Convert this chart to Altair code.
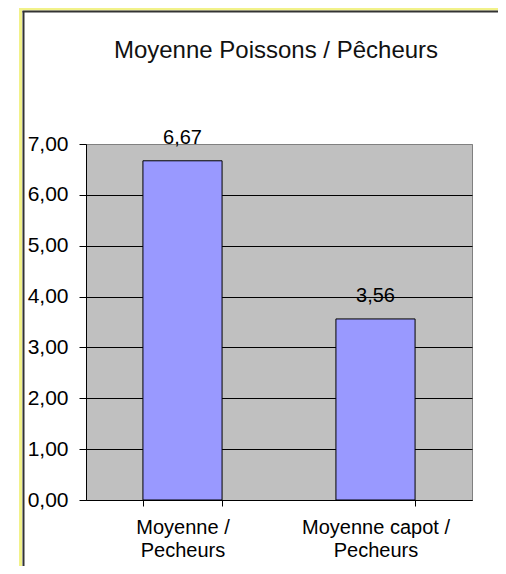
import altair as alt
import pandas as pd

categories = ["Moyenne /|Pecheurs", "Moyenne capot /|Pecheurs"]
values = [6.67, 3.56]
y_ticks = [0, 1, 2, 3, 4, 5, 6, 7]
title_text = "Moyenne Poissons / Pêcheurs"

FONT = "Liberation Sans"
df = pd.DataFrame({"cat": categories, "v": values})

x_enc = alt.X(
    "cat:N",
    sort=None,
    title=None,
    scale=alt.Scale(paddingInner=0.59, paddingOuter=0.295),
    axis=alt.Axis(
        labelExpr="split(datum.label, '|')",
        labelAngle=0,
        labelFont=FONT,
        labelFontSize=20,
        labelColor="black",
        labelLineHeight=23,
        labelBaseline="top",
        labelPadding=11,
        tickBand="extent",
        tickSize=6,
        tickColor="black",
        domainColor="black",
        grid=False,
    ),
)

y_enc = alt.Y(
    "v:Q",
    title=None,
    scale=alt.Scale(domain=[0, 7], nice=False),
    axis=alt.Axis(
        values=y_ticks,
        labelExpr="replace(format(datum.value, '.2f'), '.', ',')",
        labelFont=FONT,
        labelFontSize=21,
        labelColor="black",
        labelPadding=11,
        tickSize=7,
        tickColor="black",
        domainColor="black",
        grid=True,
        gridColor=alt.condition("datum.value == 7", alt.value("#808080"), alt.value("black")),
        gridOpacity=1,
        gridWidth=1,
    ),
)

base = alt.Chart(df)

bars = base.mark_bar(fill="#9999FF", stroke="black", strokeWidth=1).encode(x=x_enc, y=y_enc)

labels = base.transform_calculate(
    lab="replace(format(datum.v, '.2f'), '.', ',')"
).mark_text(
    font=FONT, fontSize=20, baseline="alphabetic", dy=-17, color="black"
).encode(x=alt.X("cat:N", sort=None), y="v:Q", text="lab:N")

frame_df = pd.DataFrame({"t": [title_text]})
fb = alt.Chart(frame_df)

title = fb.mark_text(
    font=FONT, fontSize=24, baseline="alphabetic", align="center", color="#111"
).encode(x=alt.value(190), y=alt.value(-86), text="t:N")

yellow_v = fb.mark_rule(color="#F2F28A", strokeWidth=3).encode(
    x=alt.value(-65.5), y=alt.value(-136), y2=alt.value(422))
black_v = fb.mark_rule(color="#333333", strokeWidth=2).encode(
    x=alt.value(-62.5), y=alt.value(-133), y2=alt.value(422))
yellow_h = fb.mark_rule(color="#F2F28A", strokeWidth=3).encode(
    y=alt.value(-135), x=alt.value(-67), x2=alt.value(412))
black_h = fb.mark_rule(color="#333333", strokeWidth=2).encode(
    y=alt.value(-132.5), x=alt.value(-63.5), x2=alt.value(412))

chart = alt.layer(bars, labels, title, yellow_v, yellow_h, black_v, black_h).properties(
    width=386,
    height=356,
    padding={"left": 78, "top": 136, "right": 26, "bottom": 66},
    autosize=alt.AutoSizeParams(type="none"),
    background="white",
).configure_view(fill="#C0C0C0", stroke="#808080", strokeWidth=1)

chart.save("out.html", embed_options={"renderer": "svg", "actions": False})
